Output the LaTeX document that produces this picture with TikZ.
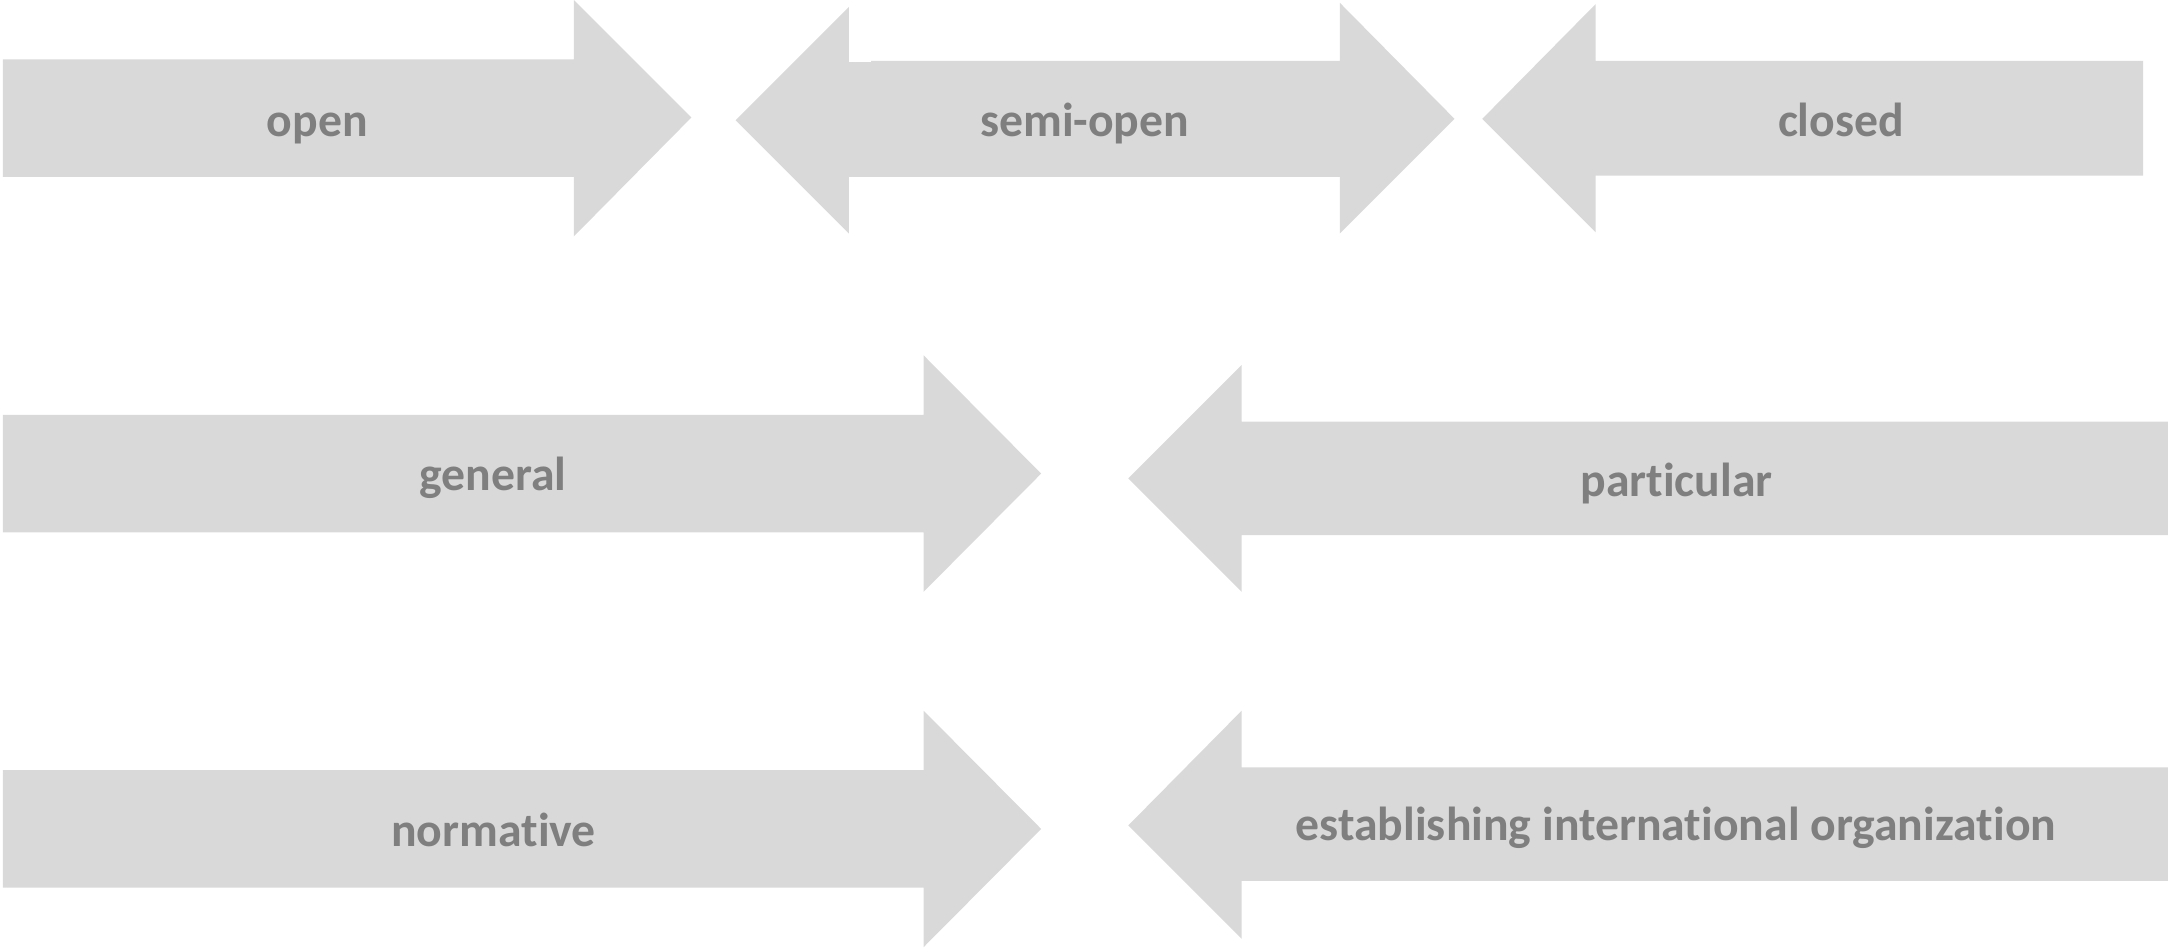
\documentclass[tikz,border=0pt]{standalone}
\usepackage{fontspec}
\setmainfont{Carlito}[Ligatures={NoCommon,NoRare}]
\usepackage{tikz}
\definecolor{arr-grey}{RGB}{217,217,217}
\definecolor{txt-grey}{RGB}{127,127,127}
\tikzset{
	arrow fill/.style={fill=arr-grey},
	arrow label/.style={anchor=base,inner sep=0pt,text=txt-grey,font=\fontsize{34.5}{41}\selectfont\bfseries}
}
\begin{document}
\begin{tikzpicture}[x=1pt,y=-1pt]
\useasboundingbox (0,0) rectangle (1568,686.4);
% top row
\fill [arrow fill] (2,43)--(415,43)--(415,0)--(500,85)--(415,171)--(415,128)--(2,128) -- cycle;
\fill [arrow fill] (532,87)--(614,5)--(614,45)--(630,45)--(630,44)--(969,44)--(969,2)--(1052,86)--(969,169)--(969,128)--(614,128)--(614,169) -- cycle;
\fill [arrow fill] (1072,86)--(1154,3)--(1154,44)--(1550,44)--(1550,127)--(1154,127)--(1154,168) -- cycle;
\node [arrow label] (open) at (229.5,98.5) {open};
\node [arrow label] (semiopen) at (784.5,99) {semi-open};
\node [arrow label] (closed) at (1331.5,98.5) {closed};
% lower rows
\foreach \y in {0,257}{
	\begin{scope}[yshift=-\y pt]
	\fill [arrow fill] (2,300)--(668,300)--(668,257)--(753,342.5)--(668,428)--(668,385)--(2,385) -- cycle;
	\end{scope}
}
\fill [arrow fill] (816,346)--(898,264)--(898,305)--(1568,305)--(1568,387)--(898,387)--(898,428) -- cycle;
\fill [arrow fill] (816,597)--(898,514)--(898,555)--(1568,555)--(1568,637)--(898,637)--(898,679) -- cycle;
\node [arrow label] (general) at (356.5,355) {general};
\node [arrow label] (particular) at (1212.5,359) {particular};
\node [arrow label] (normative) at (357,612) {normative};
\node [arrow label] (establishing) at (1212,608) {establishing international organization};
\end{tikzpicture}
\end{document}
